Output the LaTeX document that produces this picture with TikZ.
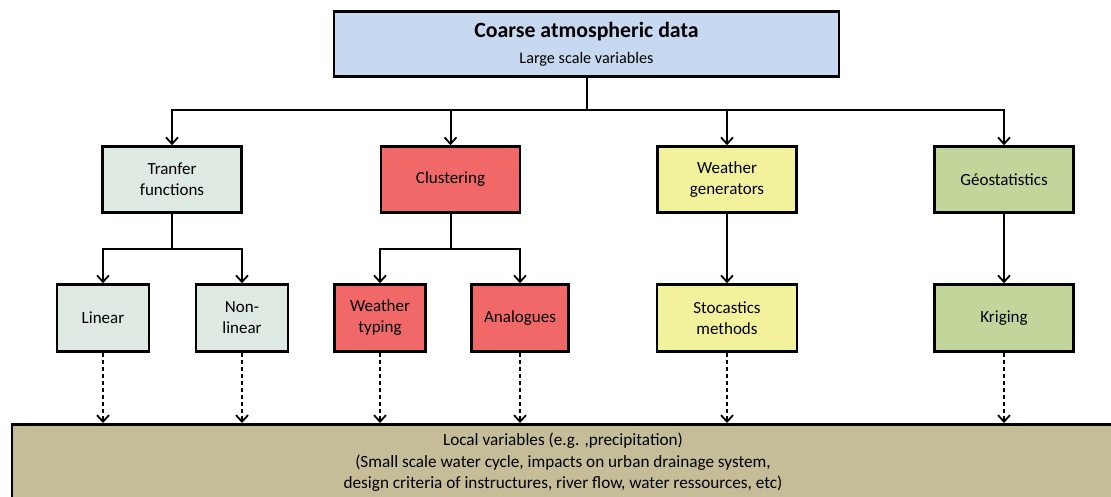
\documentclass[tikz,border=0pt]{standalone}
\usepackage{fontspec}
\setmainfont{Carlito}
\usetikzlibrary{arrows.meta}
\definecolor{cblue}{RGB}{198,217,241}
\definecolor{cgrey}{RGB}{222,233,225}
\definecolor{cred}{RGB}{240,104,104}
\definecolor{cyel}{RGB}{243,242,156}
\definecolor{cgreen}{RGB}{194,214,155}
\definecolor{ctan}{RGB}{196,189,151}
\begin{document}
\begin{tikzpicture}[x=1pt,y=-1pt,
  box/.style={draw=black, line width=2.6pt, rectangle, align=center, inner sep=0pt,
    font=\fontsize{17}{21}\selectfont, text=black},
  lvlone/.style={box, minimum width=139pt, minimum height=66pt},
  lvltwo/.style={box, minimum height=67pt},
  conn/.style={line width=2pt, line join=miter},
  arr/.style={conn, -{Straight Barb[length=6.5pt,width=12pt,line width=1.8pt]}},
  dasharrow/.style={line width=2pt, dash pattern=on 4pt off 3pt,
    -{Straight Barb[length=6.5pt,width=12pt,line width=1.8pt]}}]
\useasboundingbox (0,0) rectangle (1111,497);
\clip (0,0) rectangle (1111,497);

% bottom box
\node[draw=black, line width=2.6pt, fill=ctan, minimum width=1102pt, minimum height=160pt,
  anchor=north, inner sep=0pt] (bottom) at (563,423) {};
\node[anchor=north, align=center, inner sep=0pt, font=\fontsize{17.2}{21.5}\selectfont]
  (bottomtext) at (563,433)
  {Local variables (e.g. ,precipitation)\\
   (Small scale water cycle, impacts on urban drainage system,\\
   design criteria of instructures, river flow, water ressources, etc)};

% top box
\node[box, fill=cblue, minimum width=505pt, minimum height=65pt] (top) at (586.5,44)
  {{\fontsize{21.8}{23}\selectfont\bfseries Coarse atmospheric data}\\[5pt]
   {\fontsize{16.2}{18}\selectfont Large scale variables}};

% level one
\node[lvlone, fill=cgrey]  (tf)  at (172,179.5) {Tranfer\\functions};
\node[lvlone, fill=cred]   (cl)  at (450.5,179.5) {Clustering};
\node[lvlone, fill=cyel]   (wg)  at (727,179.5) {Weather\\generators};
\node[lvlone, fill=cgreen] (geo) at (1004,179.5) {Géostatistics};

% level two
\node[lvltwo, fill=cgrey, minimum width=92pt]  (lin)    at (103,318) {Linear};
\node[lvltwo, fill=cgrey, minimum width=92pt]  (nonlin) at (242,318) {Non-\\linear};
\node[lvltwo, fill=cred, minimum width=91pt]   (wt)     at (380,318) {Weather\\typing};
\node[lvltwo, fill=cred, minimum width=97pt]   (ana)    at (520,318) {Analogues};
\node[lvltwo, fill=cyel, minimum width=140pt]  (sto)    at (727,318) {Stocastics\\methods};
\node[lvltwo, fill=cgreen, minimum width=139pt] (kri)   at (1004,318) {Kriging};

% connectors from top
\coordinate (bus) at (top.south |- 0,110);
\draw[arr] (top.south) -- (bus) -| (tf.north);
\draw[arr] (top.south) -- (bus) -| (cl.north);
\draw[arr] (top.south) -- (bus) -| (wg.north);
\draw[arr] (top.south) -- (bus) -| (geo.north);

% level one to level two
\coordinate (tfb) at (tf.south |- 0,249);
\coordinate (clb) at (cl.south |- 0,249);
\draw[arr] (tf.south) -- (tfb) -| (lin.north);
\draw[arr] (tf.south) -- (tfb) -| (nonlin.north);
\draw[arr] (cl.south) -- (clb) -| (wt.north);
\draw[arr] (cl.south) -- (clb) -| (ana.north);
\draw[arr] (wg.south) -- (sto.north);
\draw[arr] (geo.south) -- (kri.north);

% dashed arrows to bottom
\foreach \n in {lin,nonlin,wt,ana,sto,kri}
  \draw[dasharrow] (\n.south) -- (\n.south |- bottom.north);
\end{tikzpicture}
\end{document}
